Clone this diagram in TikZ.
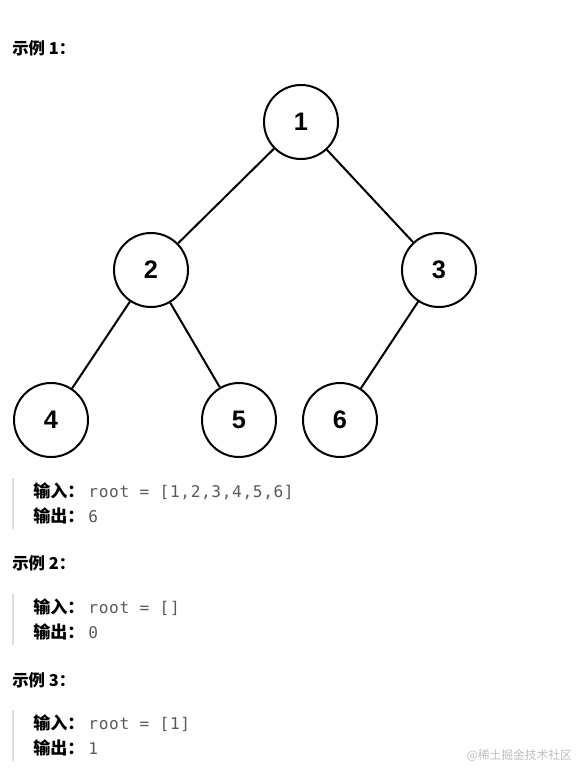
\documentclass[tikz,border=0pt]{standalone}
\usepackage{fontspec}
\setmainfont{Liberation Sans}
\newfontfamily\cjk{Noto Sans CJK SC}
\newfontfamily\monof[LetterSpace=4]{DejaVu Sans Mono}
\definecolor{codegray}{RGB}{90,90,90}
\definecolor{bargray}{RGB}{222,222,222}
\definecolor{markgray}{RGB}{190,190,190}
\newcommand{\codetxt}[1]{\hspace{3pt}{\monof\fontsize{12.1}{14}\selectfont\mdseries\color{codegray}#1}}
\begin{document}
\begin{tikzpicture}[x=0.75pt,y=-0.75pt]
  \tikzset{
    nd/.style={circle,draw,line width=1.5pt,minimum size=55.5pt,inner sep=0pt,
               font=\fontsize{19}{21}\selectfont\bfseries},
    ed/.style={line width=1.5pt},
    hd/.style={anchor=west,inner sep=0pt,font=\cjk\fontsize{12.3}{14}\selectfont\bfseries},
    io/.style={anchor=west,inner sep=0pt,font=\cjk\fontsize{12.8}{14}\selectfont\bfseries},
    bar/.style={bargray,line width=1.5pt}
  }
  \useasboundingbox[fill=white] (0,0) rectangle (580,771);

  % tree
  \node[nd] (r1) at (301,122) {1};
  \node[nd] (r2) at (151,270) {2};
  \node[nd] (r3) at (439,270) {3};
  \node[nd] (r4) at (51,420) {4};
  \node[nd] (r5) at (239,420) {5};
  \node[nd] (r6) at (340,420) {6};

  \draw[ed] (r1) -- (r2);
  \draw[ed] (r1) -- (r3);
  \draw[ed] (r2) -- (r4);
  \draw[ed] (r2) -- (r5);
  \draw[ed] (r3) -- (r6);

  % example 1
  \node[hd] (ex1) at (12,48) {示例 1：};
  \draw[bar] (13,478) -- (13,529);
  \node[io] (in1) at (33,491) {输入：\codetxt{root = [1,2,3,4,5,6]}};
  \node[io] (out1) at (33,516) {输出：\codetxt{6}};

  % example 2
  \node[hd] (ex2) at (12,563) {示例 2：};
  \draw[bar] (13,594) -- (13,645);
  \node[io] (in2) at (33,607) {输入：\codetxt{root = []}};
  \node[io] (out2) at (33,632) {输出：\codetxt{0}};

  % example 3
  \node[hd] (ex3) at (12,680) {示例 3：};
  \draw[bar] (13,710) -- (13,761);
  \node[io] (in3) at (33,723) {输入：\codetxt{root = [1]}};
  \node[io] (out3) at (33,748) {输出：\codetxt{1}};

  \node[anchor=east,inner sep=0pt,text=markgray,font=\cjk\fontsize{8.8}{10}\selectfont]
    (mark) at (572,756) {@稀土掘金技术社区};
\end{tikzpicture}
\end{document}
